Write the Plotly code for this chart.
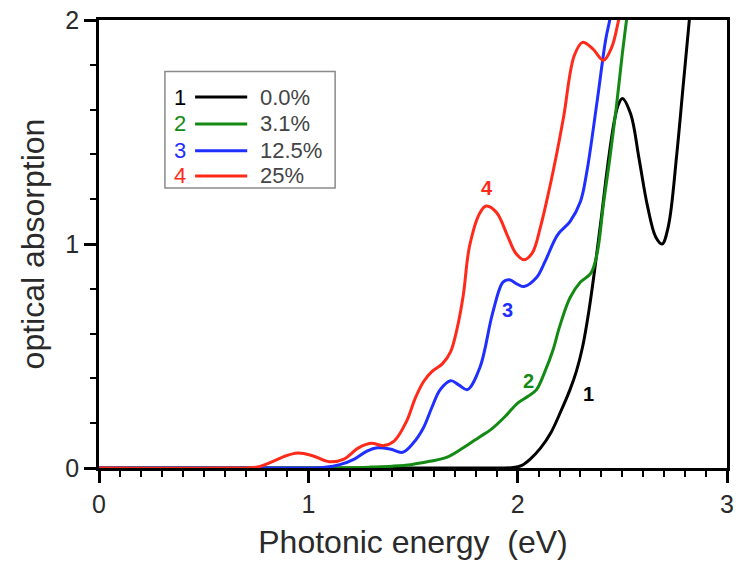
import plotly.graph_objects as go

# ---- data ----
x_black = [0, 1.9, 1.98, 2.02, 2.06, 2.11, 2.16, 2.20, 2.25, 2.28, 2.31, 2.34, 2.37, 2.40, 2.43, 2.46, 2.48, 2.50, 2.54, 2.58, 2.62, 2.66, 2.69, 2.72, 2.76, 2.79, 2.82, 2.84]
y_black = [0, 0, 0.002, 0.012, 0.04, 0.09, 0.16, 0.24, 0.35, 0.43, 0.54, 0.70, 0.90, 1.12, 1.35, 1.54, 1.62, 1.65, 1.58, 1.38, 1.17, 1.03, 1.0, 1.08, 1.40, 1.70, 2.0, 2.2]

x_green = [0, 1.1, 1.2, 1.3, 1.4, 1.49, 1.58, 1.66, 1.74, 1.82, 1.87, 1.94, 2.00, 2.05, 2.09, 2.13, 2.17, 2.20, 2.25, 2.30, 2.35, 2.38, 2.41, 2.44, 2.47, 2.50, 2.52, 2.54]
y_green = [0, 0, 0.001, 0.004, 0.008, 0.015, 0.03, 0.047, 0.09, 0.14, 0.17, 0.23, 0.29, 0.32, 0.35, 0.43, 0.53, 0.63, 0.76, 0.83, 0.87, 0.96, 1.18, 1.38, 1.6, 1.85, 2.0, 2.15]

x_blue = [0, 0.8, 1.0, 1.08, 1.15, 1.22, 1.28, 1.33, 1.39, 1.45, 1.50, 1.55, 1.59, 1.63, 1.68, 1.72, 1.76, 1.82, 1.88, 1.93, 1.96, 2.00, 2.03, 2.09, 2.13, 2.19, 2.25, 2.30, 2.33, 2.38, 2.42, 2.44, 2.46]
y_blue = [0, 0, 0, 0.003, 0.015, 0.04, 0.075, 0.09, 0.085, 0.07, 0.11, 0.18, 0.27, 0.35, 0.39, 0.37, 0.35, 0.45, 0.69, 0.83, 0.84, 0.82, 0.81, 0.85, 0.92, 1.04, 1.10, 1.19, 1.32, 1.64, 1.91, 2.0, 2.1]

x_red = [0, 0.6, 0.75, 0.82, 0.88, 0.95, 1.02, 1.10, 1.17, 1.24, 1.30, 1.36, 1.41, 1.47, 1.51, 1.55, 1.59, 1.64, 1.68, 1.71, 1.74, 1.77, 1.82, 1.85, 1.90, 1.95, 1.99, 2.03, 2.07, 2.11, 2.15, 2.19, 2.22, 2.27, 2.31, 2.36, 2.41, 2.45, 2.48, 2.50]
y_red = [0, 0, 0.003, 0.025, 0.05, 0.067, 0.055, 0.028, 0.04, 0.09, 0.11, 0.10, 0.12, 0.21, 0.31, 0.385, 0.43, 0.465, 0.52, 0.62, 0.77, 0.99, 1.14, 1.17, 1.14, 1.04, 0.96, 0.93, 0.96, 1.08, 1.24, 1.42, 1.57, 1.84, 1.90, 1.87, 1.82, 1.88, 1.99, 2.08]

series_ids = ["1", "2", "3", "4"]
series_names = ["0.0%", "3.1%", "12.5%", "25%"]
series_colors = ["#000000", "#138a13", "#1f2fff", "#ff2a1a"]
series_x = [x_black, x_green, x_blue, x_red]
series_y = [y_black, y_green, y_blue, y_red]

# curve labels: (x, y) in data coordinates
label_x = [2.34, 2.05, 1.95, 1.854]
label_y = [0.33, 0.39, 0.705, 1.25]

x_ticks = [0, 1, 2, 3]
y_ticks = [0, 1, 2]

FONT = "Liberation Sans, Arial, sans-serif"
TXT = "#2a2a2a"

fig = go.Figure()
for sid, name, col, xs, ys in zip(series_ids, series_names, series_colors, series_x, series_y):
    fig.add_trace(go.Scatter(x=xs, y=ys, mode="lines", name=name,
                             line=dict(color=col, width=3, shape="spline", smoothing=1.0),
                             showlegend=False, hoverinfo="skip"))

# curve labels
for sid, col, lx, ly in zip(series_ids, series_colors, label_x, label_y):
    fig.add_annotation(x=lx, y=ly, xref="x", yref="y", text="<b>%s</b>" % sid,
                       showarrow=False, font=dict(family=FONT, size=20, color=col))

# hand-drawn legend (paper coordinates)
fig.add_shape(type="rect", xref="paper", yref="paper", x0=0.105, x1=0.376, y0=0.625, y1=0.885,
              line=dict(color="#8a8a8a", width=1.5), fillcolor="white", layer="above")
row_y = [0.828, 0.768, 0.708, 0.652]
for sid, name, col, ry in zip(series_ids, series_names, series_colors, row_y):
    fig.add_annotation(x=0.129, y=ry, xref="paper", yref="paper", text=sid, showarrow=False,
                       font=dict(family=FONT, size=22, color=col), xanchor="center", yanchor="middle")
    fig.add_shape(type="line", xref="paper", yref="paper", x0=0.153, x1=0.236, y0=ry, y1=ry,
                  line=dict(color=col, width=3), layer="above")
    fig.add_annotation(x=0.253, y=ry, xref="paper", yref="paper", text=name, showarrow=False,
                       font=dict(family=FONT, size=22, color="#444444"), xanchor="left", yanchor="middle")

axis_common = dict(showline=True, linewidth=2.5, linecolor="black", mirror=True, automargin=False,
                   showgrid=False, zeroline=False, ticks="outside", ticklen=12, tickwidth=2.5,
                   tickcolor="black", tickfont=dict(family=FONT, size=25, color=TXT))

fig.update_xaxes(range=[0, 3], tickvals=x_ticks, ticktext=[str(v) for v in x_ticks],
                 minor=dict(dtick=0.1, ticks="outside", ticklen=6, tickwidth=2, tickcolor="black"),
                 title=dict(text="Photonic energy  (eV)", font=dict(family=FONT, size=32, color=TXT), standoff=14),
                 **axis_common)
fig.update_yaxes(range=[0, 2], tickvals=y_ticks, ticktext=[str(v) for v in y_ticks],
                 minor=dict(dtick=0.2, ticks="outside", ticklen=6, tickwidth=2, tickcolor="black"),
                 title=dict(text="optical absorption", font=dict(family=FONT, size=32, color=TXT), standoff=12),
                 **axis_common)

fig.update_layout(width=741, height=567, margin=dict(l=99, r=14, t=20, b=99),
                  paper_bgcolor="white", plot_bgcolor="white", showlegend=False)

fig.write_html("out.html")
